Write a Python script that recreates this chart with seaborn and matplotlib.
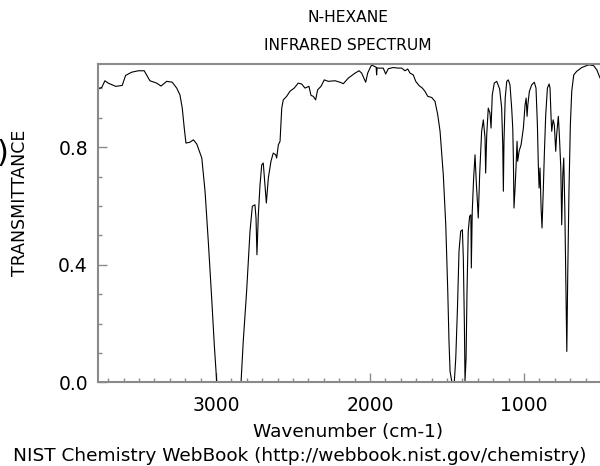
import matplotlib
matplotlib.use("Agg")
import matplotlib.pyplot as plt
from matplotlib.ticker import MultipleLocator
import seaborn as sns
import pandas as pd

# n-hexane IR spectrum (wavenumber in cm-1, transmittance)
wavenumber = [
    3768, 3742, 3721, 3700, 3651, 3609, 3587, 3548, 3505, 3466, 3429, 3385, 3357,
    3320, 3284, 3255, 3234, 3219, 3206, 3195, 3169, 3147, 3125, 3104, 3092, 3071,
    3050, 3028, 3011, 2995, 2950, 2900, 2850, 2837, 2823, 2801, 2779, 2764, 2747,
    2740, 2734, 2725, 2714, 2703, 2693, 2682, 2673, 2660, 2643, 2628, 2612, 2606,
    2595, 2584, 2573, 2563, 2541, 2520, 2492, 2466, 2444, 2422, 2396, 2383, 2368,
    2353, 2340, 2318, 2297, 2271, 2227, 2195, 2173, 2141, 2097, 2071, 2054, 2028,
    2015, 2000, 1989, 1972, 1960, 1957, 1954, 1946, 1914, 1898, 1881, 1849, 1816,
    1794, 1773, 1755, 1740, 1719, 1703, 1682, 1660, 1643, 1625, 1599, 1578, 1560,
    1545, 1524, 1508, 1495, 1487, 1480, 1469, 1460, 1452, 1443, 1432, 1422, 1411,
    1400, 1394, 1387, 1383, 1376, 1370, 1362, 1353, 1345, 1342, 1336, 1327, 1318,
    1309, 1305, 1297, 1288, 1275, 1264, 1253, 1249, 1242, 1232, 1221, 1214, 1206,
    1193, 1177, 1158, 1145, 1138, 1134, 1130, 1122, 1112, 1102, 1091, 1080, 1073,
    1069, 1065, 1058, 1052, 1045, 1041, 1032, 1019, 1004, 993, 986, 980, 975, 965,
    950, 933, 922, 913, 907, 902, 896, 889, 883, 875, 868, 859, 848, 837, 831, 824,
    820, 811, 803, 794, 788, 777, 770, 761, 755, 748, 742, 735, 729, 722, 716, 708,
    699, 690, 677, 658, 625, 581, 549, 527, 506,
]
transmittance = [
    0.999, 1.003, 1.026, 1.018, 1.007, 1.010, 1.044, 1.055, 1.060, 1.060, 1.026, 1.018, 1.008,
    1.024, 1.021, 1.001, 0.978, 0.933, 0.865, 0.814, 0.817, 0.825, 0.811, 0.780, 0.763, 0.650,
    0.480, 0.287, 0.128, 0.000, 0.000, 0.000, 0.000, 0.003, 0.139, 0.310, 0.514, 0.599, 0.604,
    0.559, 0.434, 0.570, 0.672, 0.740, 0.746, 0.672, 0.610, 0.695, 0.752, 0.780, 0.774, 0.763,
    0.808, 0.820, 0.933, 0.961, 0.973, 0.990, 1.001, 1.018, 1.015, 1.001, 1.007, 0.976, 0.973,
    0.961, 0.995, 1.007, 1.029, 1.024, 1.026, 1.021, 1.016, 1.035, 1.052, 1.060, 1.052, 1.021,
    1.052, 1.069, 1.080, 1.075, 1.072, 1.046, 1.070, 1.069, 1.069, 1.049, 1.067, 1.071, 1.069,
    1.069, 1.060, 1.066, 1.052, 1.046, 1.024, 1.010, 1.001, 0.990, 0.973, 0.969, 0.956, 0.910,
    0.854, 0.706, 0.536, 0.310, 0.139, 0.037, 0.003, 0.000, 0.005, 0.083, 0.253, 0.446, 0.514,
    0.519, 0.423, 0.196, 0.005, 0.083, 0.310, 0.514, 0.565, 0.570, 0.389, 0.582, 0.695, 0.774,
    0.672, 0.638, 0.559, 0.706, 0.854, 0.893, 0.831, 0.712, 0.842, 0.933, 0.916, 0.865, 0.978,
    1.018, 1.024, 0.998, 0.933, 0.808, 0.650, 0.820, 0.967, 1.024, 1.029, 1.012, 0.933, 0.865,
    0.763, 0.593, 0.661, 0.729, 0.820, 0.752, 0.786, 0.808, 0.865, 0.944, 0.967, 0.905, 0.944, 0.990,
    1.012, 1.021, 1.001, 0.876, 0.740, 0.661, 0.729, 0.593, 0.525, 0.650, 0.774, 0.910, 1.001, 1.015, 1.001, 0.899,
    0.854, 0.893, 0.876, 0.786, 0.842, 0.905, 0.837, 0.729, 0.536, 0.706, 0.763, 0.593, 0.378, 0.105, 0.366, 0.650,
    0.876, 0.990, 1.046, 1.058, 1.071, 1.080, 1.078, 1.063, 1.035,
]

y_ticks = [0.0, 0.4, 0.8]
y_ticklabels = ["0.0", "0.4", "0.8"]
x_ticks = [3000, 2000, 1000]

df = pd.DataFrame({"wn": wavenumber, "T": transmittance})

sns.set_style("white")
plt.rcParams["font.family"] = ["DejaVu Sans"]
plt.rcParams["text.color"] = "black"

W, H = 600, 466
fig = plt.figure(figsize=(W / 100, H / 100), dpi=100)
# axes pushed a pixel past the right edge so the right frame is cut off like the source
ax = fig.add_axes([97.7 / W, (H - 382.3) / H, (601 - 97.7) / W, (382.3 - 64) / H])

sns.lineplot(data=df, x="wn", y="T", ax=ax, color="black", linewidth=0.8,
             estimator=None, sort=False)

ax.set_xlim(3768, 500)
ax.set_ylim(0, 1.083)
ax.set_xlabel("")
ax.set_ylabel("")

ax.set_xticks(x_ticks)
ax.set_yticks(y_ticks)
ax.set_yticklabels(y_ticklabels)
ax.xaxis.set_minor_locator(MultipleLocator(100))
ax.yaxis.set_minor_locator(MultipleLocator(0.1))

frame = "#8a8a8a"
for side in ["left", "bottom", "top", "right"]:
    ax.spines[side].set_color(frame)
    ax.spines[side].set_linewidth(1.5)
ax.tick_params(which="major", direction="in", length=6.5, width=1, color=frame,
               labelsize=13.5, labelcolor="black")
ax.tick_params(which="minor", direction="in", length=3, width=1, color=frame)
ax.tick_params(axis="x", which="both", bottom=True, top=False, pad=10)
ax.tick_params(axis="y", which="both", left=True, right=False, pad=7)

fig.text(348 / W, 1 - 18 / H, "N-HEXANE", ha="center", va="center", fontsize=11.2)
fig.text(348 / W, 1 - 46 / H, "INFRARED SPECTRUM", ha="center", va="center", fontsize=11.2)
fig.text(20 / W, 1 - 203 / H, "TRANSMITTANCE", rotation=90, ha="center", va="center",
         fontsize=12.5)
fig.text(348 / W, 1 - 432 / H, "Wavenumber (cm-1)", ha="center", va="center", fontsize=13.3)
fig.text(300 / W, 1 - 456 / H, "NIST Chemistry WebBook (http://webbook.nist.gov/chemistry)",
         ha="center", va="center", fontsize=13.3)
# leftover piece of a bracket at the cropped left edge of the source image
fig.text(8 / W, 1 - 153 / H, ")", ha="right", va="center", fontsize=22)

fig.savefig("out.png", dpi=100)
